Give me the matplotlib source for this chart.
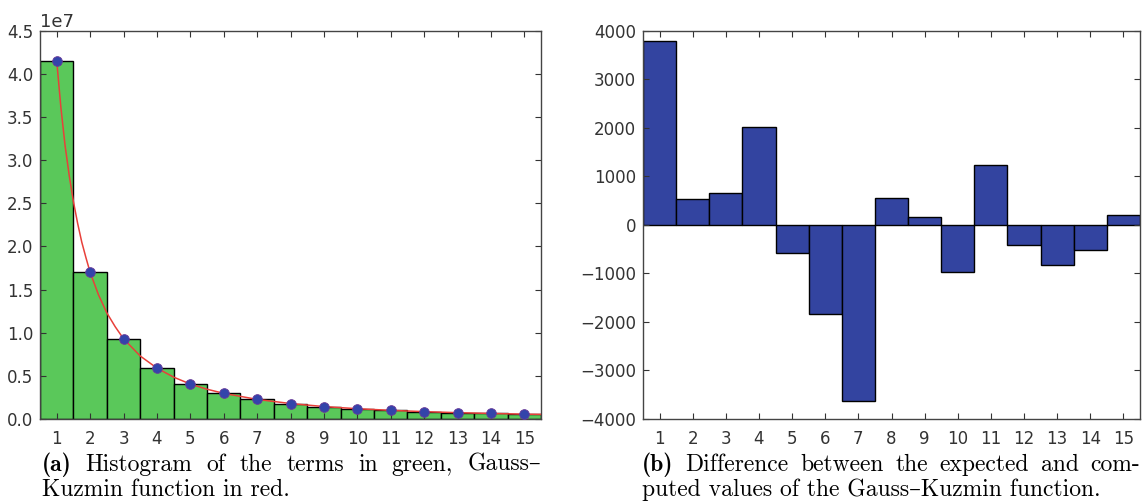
import numpy as np
import matplotlib.pyplot as plt

# Datos
terms = np.arange(1, 16)
counts = [4.15e7, 1.70e7, 0.93e7, 0.59e7, 0.405e7, 0.297e7, 0.227e7, 0.179e7,
          0.144e7, 0.119e7, 0.100e7, 0.085e7, 0.073e7, 0.064e7, 0.056e7]
# curva roja (Gauss-Kuzmin) muestreada a mano
curve_x = [1, 1.125, 1.25, 1.375, 1.5, 1.625, 1.75, 1.875, 2, 2.25, 2.5, 2.75, 3,
           3.5, 4, 4.5, 5, 5.5, 6, 7, 8, 9, 10, 11, 12, 13, 14, 15, 15.5]
curve_y = [4.15e7, 3.61e7, 3.17e7, 2.82e7, 2.52e7, 2.27e7, 2.05e7, 1.87e7, 1.70e7,
           1.44e7, 1.23e7, 1.07e7, 0.93e7, 0.73e7, 0.59e7, 0.485e7, 0.405e7,
           0.345e7, 0.297e7, 0.227e7, 0.179e7, 0.144e7, 0.119e7, 0.100e7,
           0.085e7, 0.073e7, 0.064e7, 0.056e7, 0.053e7]
diffs = [3800, 540, 660, 2010, -570, -1830, -3620, 550, 170, -970, 1240,
         -420, -820, -510, 200]

plt.rcParams['font.family'] = ['DejaVu Sans']
plt.rcParams['xtick.direction'] = 'in'
plt.rcParams['ytick.direction'] = 'in'
plt.rcParams['xtick.top'] = True
plt.rcParams['ytick.right'] = True

fig = plt.figure(figsize=(11.47, 5.04), dpi=100)
ax1 = fig.add_axes([0.0349, 0.1687, 0.4368, 0.770])
ax2 = fig.add_axes([0.5606, 0.1687, 0.4333, 0.770])

# Panel (a)
ax1.bar(terms, counts, width=1.0, color='#5ac85a', edgecolor='black', linewidth=1.0)
ax1.plot(curve_x, curve_y, color='#e8403a', linewidth=1.1, zorder=3)
ax1.plot(terms, counts, 'o', color='#3344aa', markersize=7, zorder=4,
         markeredgecolor='#6a3a9a', markeredgewidth=0.6)
ax1.set_xlim(0.5, 15.5)
ax1.set_ylim(0, 4.5e7)
ax1.set_xticks(terms)
ax1.set_yticks(np.arange(0, 4.51e7, 0.5e7))

# Panel (b)
ax2.bar(terms, diffs, width=1.0, color='#3344a0', edgecolor='black', linewidth=1.0)
ax2.set_xlim(0.5, 15.5)
ax2.set_ylim(-4000, 4000)
ax2.set_xticks(terms)
ax2.set_yticks(np.arange(-4000, 4001, 1000))

for ax in (ax1, ax2):
    ax.tick_params(labelsize=12, colors='#333333', length=4, width=0.8)
    ax.tick_params(axis='x', pad=8)
    ax.tick_params(axis='y', pad=5)
    for s in ax.spines.values():
        s.set_color('#444444')
        s.set_linewidth(1.0)
ax1.yaxis.get_offset_text().set_fontsize(13)
ax1.yaxis.get_offset_text().set_color('#333333')

# Pies de figura (primera línea justificada)
serif = ['cmr10', 'DejaVu Serif']
bold = ['cmb10', 'DejaVu Serif']
fs = 17
renderer = fig.canvas.get_renderer()
W = fig.bbox.width


def justified(x0, x1, y, words, first_bold=None):
    arts = []
    if first_bold:
        arts.append(fig.text(x0, y, first_bold, fontsize=fs, family=bold))
    for w in words:
        arts.append(fig.text(x0, y, w, fontsize=fs, family=serif))
    widths = [a.get_window_extent(renderer).width / W for a in arts]
    gap = (x1 - x0 - sum(widths)) / (len(arts) - 1)
    x = x0
    for a, wd in zip(arts, widths):
        a.set_x(x)
        x += wd + gap


justified(0.0366, 0.4715, 0.066,
          ['Histogram', 'of', 'the', 'terms', 'in', 'green,', 'Gauss\u2013'], '(a)')
fig.text(0.0366, 0.016, 'Kuzmin function in red.', fontsize=fs, family=serif)
justified(0.5597, 0.9940, 0.066,
          ['Difference', 'between', 'the', 'expected', 'and', 'com-'], '(b)')
fig.text(0.5597, 0.016, 'puted values of the Gauss\u2013Kuzmin function.',
         fontsize=fs, family=serif)

plt.savefig('out.png', dpi=100)
